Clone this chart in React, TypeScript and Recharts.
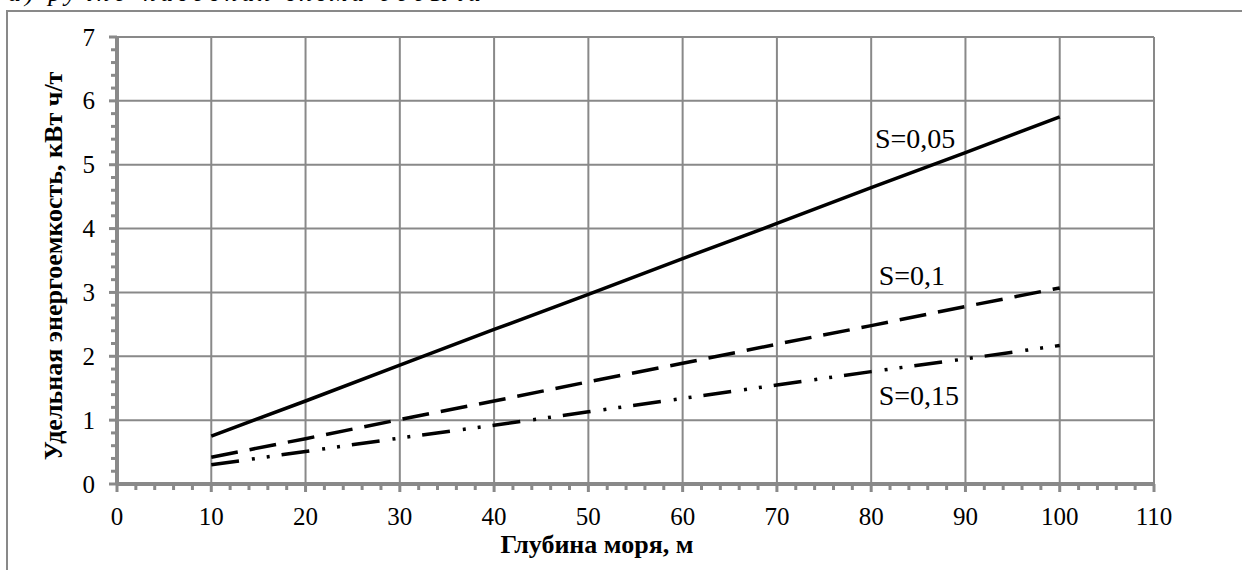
import React from 'react';
import { LineChart, Line, XAxis, YAxis, ReferenceLine, ReferenceDot } from 'recharts';

// depth of sea, m
const depth = [10, 20, 30, 40, 50, 60, 70, 80, 90, 100];
// specific energy, kWh/t, for each S
const s005 = [0.75, 1.3, 1.86, 2.42, 2.97, 3.53, 4.08, 4.64, 5.19, 5.75];
const s01 = [0.42, 0.71, 1.01, 1.3, 1.6, 1.89, 2.19, 2.48, 2.78, 3.07];
const s015 = [0.3, 0.51, 0.72, 0.92, 1.13, 1.34, 1.55, 1.76, 1.96, 2.17];

const xMajor = [0, 10, 20, 30, 40, 50, 60, 70, 80, 90, 100, 110];
const yMajor = [0, 1, 2, 3, 4, 5, 6, 7];
const seriesNames = ['S=0,05', 'S=0,1', 'S=0,15'];

const xTitle = 'Глубина моря, м';
const yTitle = 'Удельная энергоемкость, кВт ч/т';
const caption = 'а) ручно-насосная схема добычи';

// minor ticks every 2 m and every 0.2 kWh/t
const xTicks = Array.from({ length: 56 }, (_, i) => i * 2);
const yTicks = Array.from({ length: 36 }, (_, i) => i / 5);

const data = depth.map((d, i) => ({ depth: d, s005: s005[i], s01: s01[i], s015: s015[i] }));

const FONT = '"Liberation Serif", "Times New Roman", serif';
const GRAY = '#898989';

const isWhole = (v: number) => Math.abs(v - Math.round(v)) < 1e-6;

const XTick = (props: any) => {
  const { x, y, payload } = props;
  const v = payload.value;
  const major = isWhole(v / 10);
  return (
    <g>
      <line x1={x} x2={x} y1={y} y2={y + (major ? 8 : 6)} stroke={GRAY} strokeWidth={3} />
      {major && (
        <text x={x} y={y + 41} textAnchor="middle" fontFamily={FONT} fontSize={25} fill="#000">
          {Math.round(v)}
        </text>
      )}
    </g>
  );
};

const YTick = (props: any) => {
  const { x, y, payload } = props;
  const v = payload.value;
  const major = isWhole(v);
  return (
    <g>
      <line x1={x} x2={x - (major ? 8 : 6)} y1={y} y2={y} stroke={GRAY} strokeWidth={3} />
      {major && (
        <text x={x - 22} y={y + 8.5} textAnchor="end" fontFamily={FONT} fontSize={25} fill="#000">
          {Math.round(v)}
        </text>
      )}
    </g>
  );
};

const sLabel = (text: string) => ({
  value: text,
  position: 'right' as const,
  offset: 0,
  fill: '#000',
  fontSize: 28,
  fontFamily: FONT,
});

export default function App() {
  return (
    <div
      style={{
        position: 'absolute',
        left: 0,
        top: 0,
        width: 1242,
        height: 570,
        overflow: 'hidden',
        background: '#fff',
        fontFamily: FONT,
      }}
    >
      {/* caption of the figure, mostly above the crop like in the source */}
      <div
        style={{
          position: 'absolute',
          left: 8,
          top: -20,
          fontStyle: 'italic',
          fontSize: 26,
          lineHeight: '26px',
          letterSpacing: 4,
          whiteSpace: 'nowrap',
        }}
      >
        {caption}
      </div>
      <div
        style={{
          position: 'absolute',
          left: 6,
          top: 10,
          width: 1300,
          height: 600,
          borderLeft: `2px solid ${GRAY}`,
          borderTop: `2px solid ${GRAY}`,
        }}
      />
      <div style={{ position: 'absolute', left: 0, top: 0 }}>
        <LineChart width={1242} height={570} data={data} margin={{ top: 37, right: 88, left: 57, bottom: 46 }}>
          {xMajor.slice(1).map((v) => (
            <ReferenceLine key={'vx' + v} x={v} stroke={GRAY} strokeWidth={2} />
          ))}
          {yMajor.slice(1).map((v) => (
            <ReferenceLine key={'hy' + v} y={v} stroke={GRAY} strokeWidth={2} />
          ))}
          <XAxis
            dataKey="depth"
            type="number"
            domain={[0, 110]}
            ticks={xTicks}
            interval={0}
            height={40}
            tickSize={0}
            tickMargin={0}
            tickLine={false}
            tick={<XTick />}
            axisLine={{ stroke: GRAY, strokeWidth: 4 }}
          />
          <YAxis
            type="number"
            domain={[0, 7]}
            ticks={yTicks}
            interval={0}
            width={60}
            tickSize={0}
            tickMargin={0}
            tickLine={false}
            tick={<YTick />}
            axisLine={{ stroke: GRAY, strokeWidth: 4 }}
          />
          <Line
            dataKey="s005"
            stroke="#000"
            strokeWidth={3.5}
            dot={false}
            isAnimationActive={false}
          />
          <Line
            dataKey="s01"
            stroke="#000"
            strokeWidth={3.5}
            strokeDasharray="27 12"
            dot={false}
            isAnimationActive={false}
          />
          <Line
            dataKey="s015"
            stroke="#000"
            strokeWidth={3.5}
            strokeDasharray="28 13 3 12 3 12"
            dot={false}
            isAnimationActive={false}
          />
          <ReferenceDot x={80.4} y={5.42} r={0} fill="none" stroke="none" label={sLabel(seriesNames[0])} />
          <ReferenceDot x={80.8} y={3.27} r={0} fill="none" stroke="none" label={sLabel(seriesNames[1])} />
          <ReferenceDot x={80.8} y={1.39} r={0} fill="none" stroke="none" label={sLabel(seriesNames[2])} />
        </LineChart>
      </div>
      <svg
        width={1242}
        height={570}
        style={{ position: 'absolute', left: 0, top: 0, pointerEvents: 'none' }}
      >
        <text x={597} y={553} textAnchor="middle" fontFamily={FONT} fontSize={26} fontWeight="bold" fill="#000">
          {xTitle}
        </text>
        <text
          x={62}
          y={266}
          textAnchor="middle"
          fontFamily={FONT}
          fontSize={26}
          fontWeight="bold"
          fill="#000"
          transform="rotate(-90, 62, 266)"
        >
          {yTitle}
        </text>
      </svg>
    </div>
  );
}
